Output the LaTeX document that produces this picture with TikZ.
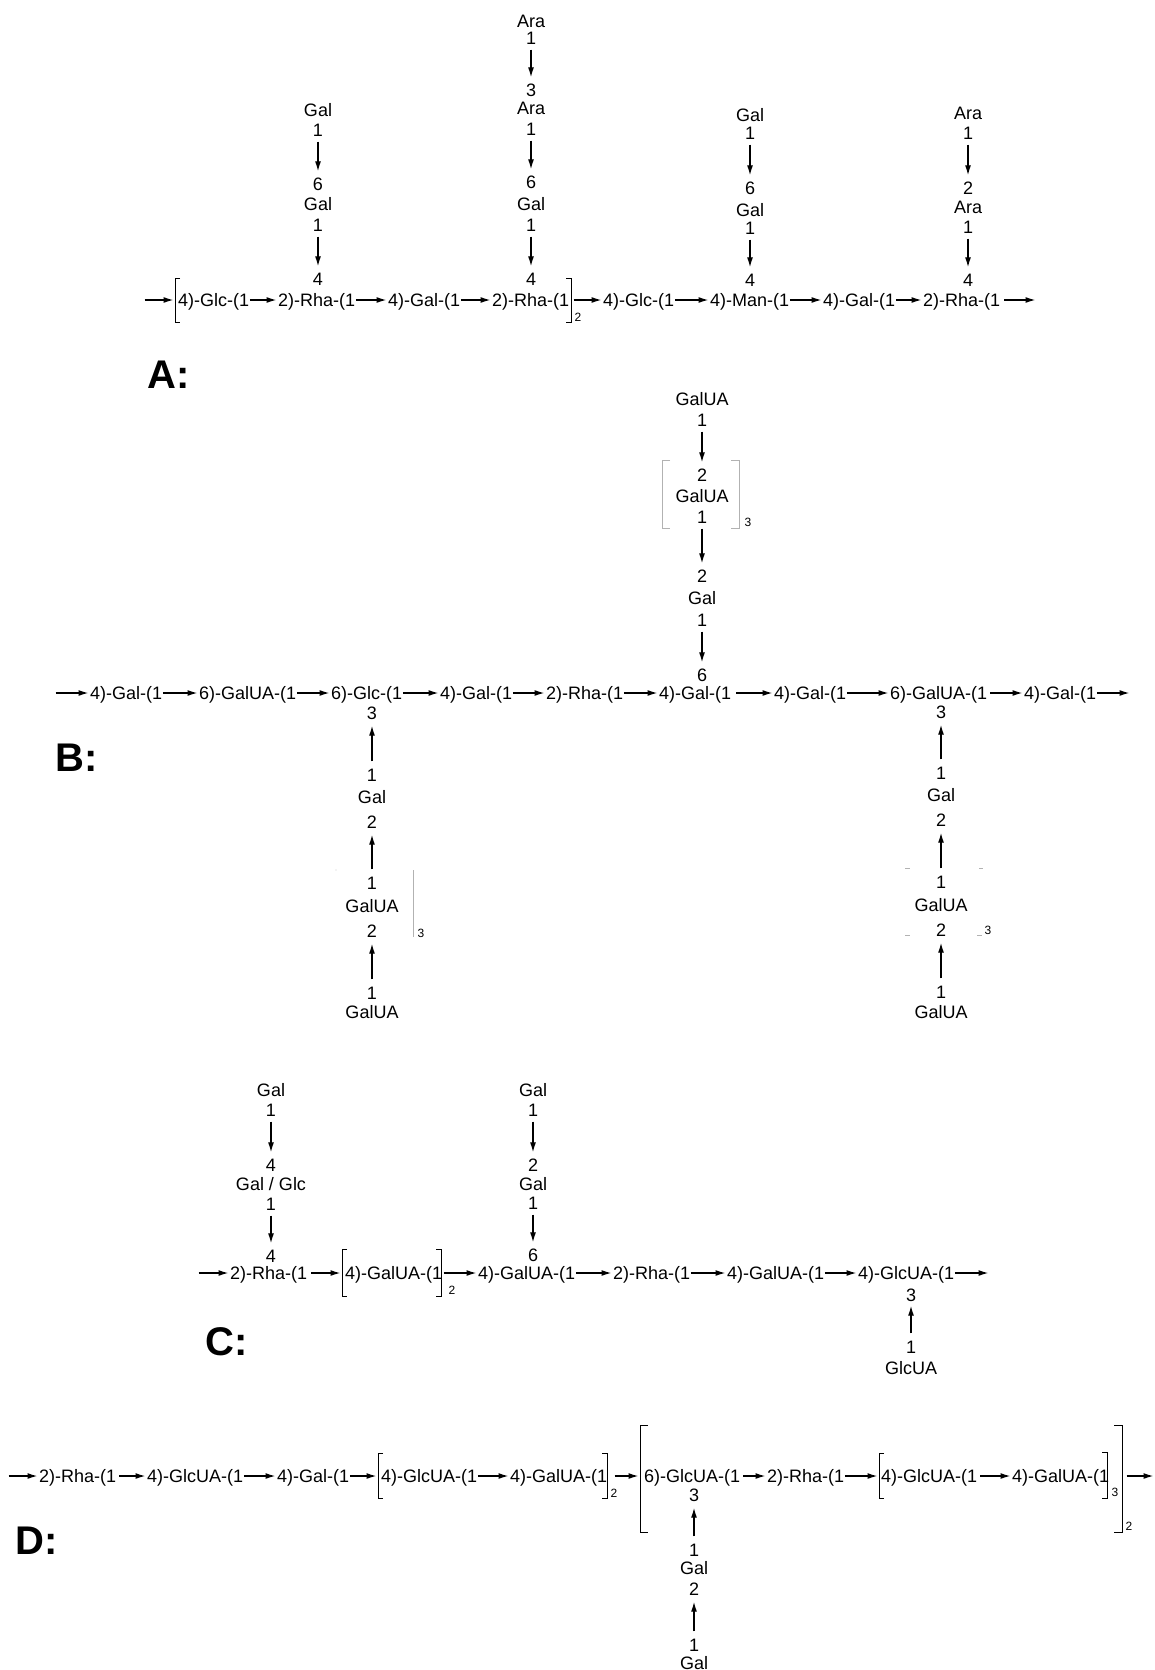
\documentclass[tikz,border=0pt]{standalone}
\usepackage{fontspec}
\setmainfont{Liberation Sans}
\usetikzlibrary{arrows.meta}
\begin{document}
\begin{tikzpicture}[x=1pt,y=-1pt,
  t/.style={font=\fontsize{18}{20}\selectfont, inner sep=0pt, text height=13pt, text depth=0pt},
  tw/.style={t, anchor=west},
  sub/.style={font=\fontsize{12}{13}\selectfont, inner sep=0pt, text height=8.5pt, text depth=0pt},
  lab/.style={font=\fontsize{40}{44}\selectfont\bfseries, inner sep=0pt, anchor=west, text height=29pt, text depth=0pt},
  harr/.style={line width=1.4pt, -{Latex[length=10pt,width=6pt]}, shorten >=1.5pt, shorten <=0.5pt},
  varr/.style={line width=1.3pt, -{Latex[length=10pt,width=6pt]}, shorten >=6pt, shorten <=5pt},
  uarr/.style={line width=1.3pt, -{Latex[length=10pt,width=6pt]}, shorten >=6pt, shorten <=7pt},
  brk/.style={line width=1pt},
  gbrk/.style={line width=0.9pt, gray!60}]
\useasboundingbox (0,0) rectangle (1154,1670);
\fill[white] (0,0) rectangle (1154,1670);

%% ---------------- Panel A ----------------
\coordinate (a0) at (144,300);
\coordinate (a0e) at (175,300);
\draw[brk] (180,278) -- (175,278) -- (175,322) -- (180,322);
\node[tw] (a1) at (178,300) {4)-Glc-(1};
\node[tw] (a2) at (278,300) {2)-Rha-(1};
\node[tw] (a3) at (388,300) {4)-Gal-(1};
\node[tw] (a4) at (492,300) {2)-Rha-(1};
\draw[brk] (566,278) -- (571,278) -- (571,322) -- (566,322);
\node[sub] (a4s) at (578,317) {2};
\coordinate (a4b) at (573,300);
\node[tw] (a5) at (603,300) {4)-Glc-(1};
\node[tw] (a6) at (710,300) {4)-Man-(1};
\node[tw] (a7) at (823,300) {4)-Gal-(1};
\node[tw] (a8) at (923,300) {2)-Rha-(1};
\coordinate (a9) at (1037,300);
\draw[harr] (a0) -- (a0e);
\draw[harr] (a1) -- (a2);
\draw[harr] (a2) -- (a3);
\draw[harr] (a3) -- (a4);
\draw[harr] (a4b) -- (a5);
\draw[harr] (a5) -- (a6);
\draw[harr] (a6) -- (a7);
\draw[harr] (a7) -- (a8);
\draw[harr, shorten <=4pt] (a8) -- (a9);

% branch on first Rha
\node[t] (p1) at (318,110) {Gal};
\node[t] (p2) at (318,130) {1};
\node[t] (p3) at (318,184) {6};
\node[t] (p4) at (318,204) {Gal};
\node[t] (p5) at (318,225) {1};
\node[t] (p6) at (318,279) {4};
\draw[varr] (p2) -- (p3);
\draw[varr] (p5) -- (p6);

% branch on second Rha
\node[t] (q1) at (531,21) {Ara};
\node[t] (q2) at (531,38) {1};
\node[t] (q3) at (531,90) {3};
\node[t] (q4) at (531,108) {Ara};
\node[t] (q5) at (531,129) {1};
\node[t] (q6) at (531,182) {6};
\node[t] (q7) at (531,204) {Gal};
\node[t] (q8) at (531,225) {1};
\node[t] (q9) at (531,279) {4};
\draw[varr] (q2) -- (q3);
\draw[varr] (q5) -- (q6);
\draw[varr] (q8) -- (q9);

% branch on Man
\node[t] (r1) at (750,115) {Gal};
\node[t] (r2) at (750,133) {1};
\node[t] (r3) at (750,188) {6};
\node[t] (r4) at (750,210) {Gal};
\node[t] (r5) at (750,228) {1};
\node[t] (r6) at (750,280) {4};
\draw[varr] (r2) -- (r3);
\draw[varr] (r5) -- (r6);

% branch on last Rha
\node[t] (s1) at (968,113) {Ara};
\node[t] (s2) at (968,133) {1};
\node[t] (s3) at (968,188) {2};
\node[t] (s4) at (968,207) {Ara};
\node[t] (s5) at (968,227) {1};
\node[t] (s6) at (968,280) {4};
\draw[varr] (s2) -- (s3);
\draw[varr] (s5) -- (s6);

\node[lab] (labA) at (147,373.5) {A:};

%% ---------------- Panel B ----------------
\coordinate (b0) at (55,693);
\node[tw] (b1) at (90,693) {4)-Gal-(1};
\node[tw] (b2) at (199,693) {6)-GalUA-(1};
\node[tw] (b3) at (331,693) {6)-Glc-(1};
\node[tw] (b4) at (440,693) {4)-Gal-(1};
\node[tw] (b5) at (546,693) {2)-Rha-(1};
\node[tw] (b6) at (659,693) {4)-Gal-(1};
\node[tw] (b7) at (774,693) {4)-Gal-(1};
\node[tw] (b8) at (890,693) {6)-GalUA-(1};
\node[tw] (b9) at (1024,693) {4)-Gal-(1};
\coordinate (b10) at (1131,693);
\draw[harr] (b0) -- (b1);
\draw[harr] (b1) -- (b2);
\draw[harr] (b2) -- (b3);
\draw[harr] (b3) -- (b4);
\draw[harr] (b4) -- (b5);
\draw[harr] (b5) -- (b6);
\draw[harr, shorten <=5pt] (b6) -- (b7);
\draw[harr] (b7) -- (b8);
\draw[harr, shorten <=3pt] (b8) -- (b9);
\draw[harr] (b9) -- (b10);

% top branch on Gal
\node[t] (u1) at (702,399) {GalUA};
\node[t] (u2) at (702,420) {1};
\node[t] (u3) at (702,475) {2};
\node[t] (u4) at (702,496) {GalUA};
\node[t] (u5) at (702,517) {1};
\node[t] (u6) at (702,576) {2};
\node[t] (u7) at (702,598) {Gal};
\node[t] (u8) at (702,620) {1};
\node[t] (u9) at (702,675) {6};
\draw[varr] (u2) -- (u3);
\draw[varr] (u5) -- (u6);
\draw[varr] (u8) -- (u9);
\draw[gbrk] (670,460) -- (662,460) -- (662,528) -- (670,528);
\draw[gbrk] (731,460) -- (739,460) -- (739,528) -- (731,528);
\node[sub] (u5s) at (748,522) {3};

% bottom branch on Glc
\node[t] (v1) at (372,713) {3};
\node[t] (v2) at (372,775) {1};
\node[t] (v3) at (372,797) {Gal};
\node[t] (v4) at (372,822) {2};
\node[t] (v5) at (372,883) {1};
\node[t] (v6) at (372,906) {GalUA};
\node[t] (v7) at (372,931) {2};
\node[t] (v8) at (372,993) {1};
\node[t] (v9) at (372,1012) {GalUA};
\draw[uarr] (v2) -- (v1);
\draw[uarr] (v5) -- (v4);
\draw[uarr] (v8) -- (v7);
\draw[gbrk] (413,870) -- (413,937);
\fill[gray!40] (336,870) circle (0.6);
\node[sub] (v7s) at (421,933) {3};

% bottom branch on GalUA
\node[t] (w1) at (941,712) {3};
\node[t] (w2) at (941,773) {1};
\node[t] (w3) at (941,795) {Gal};
\node[t] (w4) at (941,820) {2};
\node[t] (w5) at (941,882) {1};
\node[t] (w6) at (941,905) {GalUA};
\node[t] (w7) at (941,930) {2};
\node[t] (w8) at (941,992) {1};
\node[t] (w9) at (941,1012) {GalUA};
\draw[uarr] (w2) -- (w1);
\draw[uarr] (w5) -- (w4);
\draw[uarr] (w8) -- (w7);
\draw[gbrk] (905,868) -- (910,868);
\draw[gbrk] (979,868) -- (983,868);
\draw[gbrk] (905,935) -- (910,935);
\draw[gbrk] (977,935) -- (982,935);
\node[sub] (w7s) at (988,930) {3};

\node[lab] (labB) at (55,757) {B:};

%% ---------------- Panel C ----------------
\coordinate (c0) at (198,1273);
\node[tw] (c1) at (230,1273) {2)-Rha-(1};
\draw[brk] (347,1249) -- (342,1249) -- (342,1296) -- (347,1296);
\coordinate (c1e) at (342,1273);
\node[tw] (c2) at (345,1273) {4)-GalUA-(1};
\draw[brk] (436,1249) -- (441,1249) -- (441,1296) -- (436,1296);
\node[sub] (c2s) at (452,1290) {2};
\coordinate (c2b) at (443,1273);
\node[tw] (c3) at (478,1273) {4)-GalUA-(1};
\node[tw] (c4) at (613,1273) {2)-Rha-(1};
\node[tw] (c5) at (727,1273) {4)-GalUA-(1};
\node[tw] (c6) at (858,1273) {4)-GlcUA-(1};
\coordinate (c7) at (990,1273);
\draw[harr] (c0) -- (c1);
\draw[harr, shorten <=4pt] (c1) -- (c1e);
\draw[harr] (c2b) -- (c3);
\draw[harr] (c3) -- (c4);
\draw[harr] (c4) -- (c5);
\draw[harr] (c5) -- (c6);
\draw[harr] (c6) -- (c7);

\node[t] (e1) at (271,1090) {Gal};
\node[t] (e2) at (271,1110) {1};
\node[t] (e3) at (271,1165) {4};
\node[t] (e4) at (271,1184) {Gal / Glc};
\node[t] (e5) at (271,1204) {1};
\node[t] (e6) at (271,1256) {4};
\draw[varr] (e2) -- (e3);
\draw[varr] (e5) -- (e6);

\node[t] (f1) at (533,1090) {Gal};
\node[t] (f2) at (533,1110) {1};
\node[t] (f3) at (533,1165) {2};
\node[t] (f4) at (533,1184) {Gal};
\node[t] (f5) at (533,1203) {1};
\node[t] (f6) at (533,1255) {6};
\draw[varr] (f2) -- (f3);
\draw[varr] (f5) -- (f6);

\node[t] (h1) at (911,1295) {3};
\node[t] (h2) at (911,1347) {1};
\node[t] (h3) at (911,1368) {GlcUA};
\draw[uarr, shorten >=4pt] (h2) -- (h1);

\node[lab] (labC) at (205,1341) {C:};

%% ---------------- Panel D ----------------
\coordinate (d0) at (8,1476);
\node[tw] (d1) at (39,1476) {2)-Rha-(1};
\node[tw] (d2) at (147,1476) {4)-GlcUA-(1};
\node[tw] (d3) at (277,1476) {4)-Gal-(1};
\draw[brk] (383,1453) -- (378,1453) -- (378,1498) -- (383,1498);
\coordinate (d3e) at (378,1476);
\node[tw] (d4) at (381,1476) {4)-GlcUA-(1};
\node[tw] (d5) at (510,1476) {4)-GalUA-(1};
\draw[brk] (602,1453) -- (607,1453) -- (607,1498) -- (602,1498);
\node[sub] (d5s) at (614,1493) {2};
\coordinate (d5b) at (614,1476);
\coordinate (d5e) at (640,1476);
\draw[brk] (648,1425) -- (640,1425) -- (640,1532) -- (648,1532);
\node[tw] (d6) at (644,1476) {6)-GlcUA-(1};
\node[tw] (d7) at (767,1476) {2)-Rha-(1};
\draw[brk] (884,1453) -- (879,1453) -- (879,1498) -- (884,1498);
\coordinate (d7e) at (879,1476);
\node[tw] (d8) at (881,1476) {4)-GlcUA-(1};
\node[tw] (d9) at (1012,1476) {4)-GalUA-(1};
\draw[brk] (1102,1452) -- (1107,1452) -- (1107,1498) -- (1102,1498);
\node[sub] (d9s) at (1115,1492) {3};
\draw[brk] (1114,1425) -- (1122,1425) -- (1122,1532) -- (1114,1532);
\node[sub] (d9t) at (1129,1526) {2};
\coordinate (d9b) at (1126,1476);
\coordinate (d10) at (1155,1476);
\draw[harr] (d0) -- (d1);
\draw[harr, shorten <=3pt] (d1) -- (d2);
\draw[harr] (d2) -- (d3);
\draw[harr] (d3) -- (d3e);
\draw[harr] (d4) -- (d5);
\draw[harr] (d5b) -- (d5e);
\draw[harr, shorten <=3pt] (d6) -- (d7);
\draw[harr] (d7) -- (d7e);
\draw[harr, shorten <=3pt] (d8) -- (d9);
\draw[harr] (d9b) -- (d10);

\node[t] (k1) at (694,1495) {3};
\node[t] (k2) at (694,1550) {1};
\node[t] (k3) at (694,1568) {Gal};
\node[t] (k4) at (694,1589) {2};
\node[t] (k5) at (694,1645) {1};
\node[t] (k6) at (694,1663) {Gal};
\draw[uarr] (k2) -- (k1);
\draw[uarr] (k5) -- (k4);

\node[lab] (labD) at (15,1540) {D:};
\end{tikzpicture}
\end{document}
